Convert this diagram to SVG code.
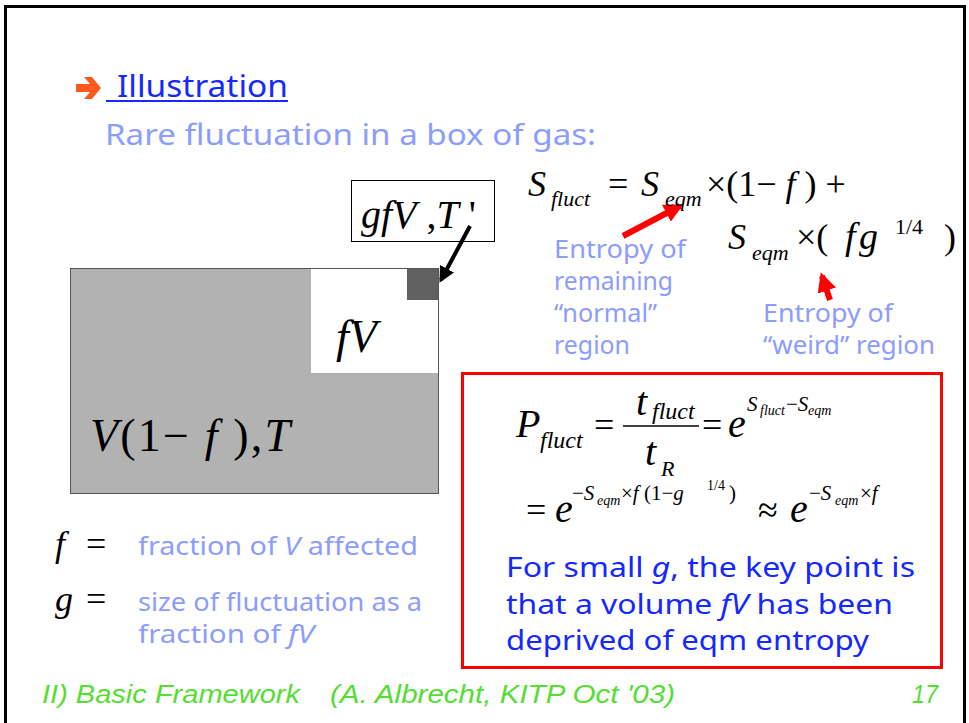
<svg xmlns="http://www.w3.org/2000/svg" width="969" height="723" viewBox="0 0 969 723">
<defs>
<style>
.m{font-family:"Liberation Serif","Times New Roman",serif;fill:#000}
.mi{font-family:"Liberation Serif","Times New Roman",serif;font-style:italic;fill:#000}
.lb{font-family:"Noto Sans","Liberation Sans",sans-serif;fill:#8c9cff}
.db{font-family:"Noto Sans","Liberation Sans",sans-serif;fill:#1428ff}
.ft{font-family:"Liberation Sans",sans-serif;font-style:italic;fill:#55dd33}
</style>
<marker id="bk" viewBox="0 0 10 10" refX="8" refY="5" markerWidth="4" markerHeight="4" orient="auto"><path d="M0,0 L10,5 L0,10 z" fill="#000"/></marker>
<marker id="rd" viewBox="0 0 10 10" refX="8" refY="5" markerWidth="3.2" markerHeight="3.2" orient="auto"><path d="M0,0 L10,5 L0,10 z" fill="#ff0000"/></marker>
</defs>
<rect x="0" y="0" width="969" height="723" fill="#fff"/>
<path d="M5.5,740 V6.5 H964.5 V740" fill="none" stroke="#000" stroke-width="3"/>

<g id="header">
<path d="M76,84 H90 L84,77 H92 L101,88 L92,99 H84 L90,92 H76 z" fill="#ff5a1e"/>
<text x="117" y="97" class="db" font-size="30" textLength="171" lengthAdjust="spacingAndGlyphs">Illustration</text>
<line x1="106" y1="101" x2="288" y2="101" stroke="#1428ff" stroke-width="2"/>
<text x="105" y="145" class="lb" font-size="29" textLength="491" lengthAdjust="spacingAndGlyphs">Rare fluctuation in a box of gas:</text>
</g>

<g id="box">
<rect x="70.5" y="268.5" width="368" height="225" fill="#b2b2b2" stroke="#555" stroke-width="1"/>
<rect x="311" y="269" width="127" height="104" fill="#fff"/>
<rect x="407" y="269" width="31" height="31" fill="#606060"/>
<text x="336" y="352" class="mi" font-size="46">fV</text>
<text x="90" y="451" class="m" font-size="46" textLength="200"><tspan font-style="italic">V</tspan>(1− <tspan font-style="italic">f</tspan> ),<tspan font-style="italic">T</tspan></text>
</g>

<g id="gfv">
<rect x="351.5" y="180.5" width="143" height="61" fill="#fff" stroke="#000" stroke-width="1"/>
<text x="361" y="228" class="mi" font-size="40">gfV<tspan font-style="normal"> ,</tspan>T<tspan font-style="normal"> '</tspan></text>
</g>

<g id="connectors">
<line x1="470" y1="226" x2="441" y2="280" stroke="#000" stroke-width="4" marker-end="url(#bk)"/>
<line x1="623" y1="236" x2="680" y2="206" stroke="#ff0000" stroke-width="6" marker-end="url(#rd)"/>
<line x1="830" y1="300" x2="822" y2="276" stroke="#ff0000" stroke-width="6" marker-end="url(#rd)"/>
</g>

<g id="entropy-eq">
<text x="528" y="196" class="mi" font-size="36">S</text>
<text x="551" y="206" class="mi" font-size="22">fluct</text>
<text x="608" y="196" class="m" font-size="36">=</text>
<text x="641" y="196" class="mi" font-size="36">S</text>
<text x="665" y="206" class="mi" font-size="22">eqm</text>
<text x="706" y="196" class="m" font-size="36">×(1− <tspan font-style="italic">f</tspan> ) +</text>
<text x="728" y="249" class="mi" font-size="36">S</text>
<text x="752" y="260" class="mi" font-size="22">eqm</text>
<text x="796" y="249" class="m" font-size="36">×(</text>
<text x="845" y="249" class="mi" font-size="38">f</text>
<text x="859" y="249" class="mi" font-size="38">g</text>
<text x="895" y="234" class="m" font-size="22">1/4</text>
<text x="944" y="249" class="m" font-size="36">)</text>
</g>

<g id="labels">
<text class="lb" font-size="26"><tspan x="554" y="258" textLength="132" lengthAdjust="spacingAndGlyphs">Entropy of</tspan><tspan x="554" y="290" textLength="119" lengthAdjust="spacingAndGlyphs">remaining</tspan><tspan x="554" y="322" textLength="103" lengthAdjust="spacingAndGlyphs">“normal”</tspan><tspan x="554" y="354" textLength="76" lengthAdjust="spacingAndGlyphs">region</tspan></text>
<text class="lb" font-size="26"><tspan x="763" y="322" textLength="130" lengthAdjust="spacingAndGlyphs">Entropy of</tspan><tspan x="763" y="354" textLength="172" lengthAdjust="spacingAndGlyphs">“weird” region</tspan></text>
</g>

<g id="result">
<rect x="462.5" y="373.5" width="479" height="294" fill="none" stroke="#ff0000" stroke-width="3"/>
<text x="516" y="437" class="mi" font-size="40">P</text>
<text x="540" y="448" class="mi" font-size="24">fluct</text>
<text x="594" y="437" class="m" font-size="36">=</text>
<text x="636" y="415" class="mi" font-size="40">t</text>
<text x="652" y="419" class="mi" font-size="24">fluct</text>
<line x1="623" y1="426" x2="699" y2="426" stroke="#000" stroke-width="1.6"/>
<text x="645" y="465" class="mi" font-size="40">t</text>
<text x="661" y="476" class="mi" font-size="22">R</text>
<text x="702" y="437" class="m" font-size="36">=</text>
<text x="728" y="437" class="mi" font-size="40">e</text>
<text x="747" y="411" class="mi" font-size="21">S</text>
<text x="760" y="415" class="mi" font-size="14">fluct</text>
<text x="786" y="411" class="m" font-size="21">−<tspan font-style="italic">S</tspan></text>
<text x="808" y="415" class="mi" font-size="14">eqm</text>
<text x="526" y="522" class="m" font-size="36">=</text>
<text x="555" y="522" class="mi" font-size="40">e</text>
<text x="572" y="500" class="m" font-size="21">−<tspan font-style="italic">S</tspan></text>
<text x="597" y="505" class="mi" font-size="14">eqm</text>
<text x="621" y="500" class="m" font-size="21">×<tspan font-style="italic">f</tspan> (1−<tspan font-style="italic">g</tspan></text>
<text x="707" y="490" class="m" font-size="14">1/4</text>
<text x="729" y="500" class="m" font-size="21">)</text>
<text x="758" y="522" class="m" font-size="36">≈</text>
<text x="790" y="522" class="mi" font-size="40">e</text>
<text x="809" y="500" class="m" font-size="21">−<tspan font-style="italic">S</tspan></text>
<text x="835" y="505" class="mi" font-size="14">eqm</text>
<text x="860" y="500" class="m" font-size="21">×<tspan font-style="italic">f</tspan></text>
<text class="db" font-size="28"><tspan x="506" y="577" textLength="409" lengthAdjust="spacingAndGlyphs">For small <tspan font-style="italic">g</tspan>, the key point is</tspan><tspan x="506" y="614" textLength="387" lengthAdjust="spacingAndGlyphs">that a volume <tspan font-style="italic">fV</tspan> has been</tspan><tspan x="506" y="650" textLength="363" lengthAdjust="spacingAndGlyphs">deprived of eqm entropy</tspan></text>
</g>

<g id="defs-text">
<text x="55" y="556" class="mi" font-size="36">f</text>
<text x="86" y="556" class="m" font-size="36">=</text>
<text x="55" y="611" class="mi" font-size="36">g</text>
<text x="86" y="611" class="m" font-size="36">=</text>
<text x="138" y="555" class="lb" font-size="25" textLength="280" lengthAdjust="spacingAndGlyphs">fraction of <tspan font-style="italic">V</tspan> affected</text>
<text x="138" y="611" class="lb" font-size="25" textLength="284" lengthAdjust="spacingAndGlyphs">size of fluctuation as a</text>
<text x="138" y="643" class="lb" font-size="25" textLength="176" lengthAdjust="spacingAndGlyphs">fraction of <tspan font-style="italic">fV</tspan></text>
</g>

<g id="footer">
<text x="42" y="703" class="ft" font-size="26" textLength="258" lengthAdjust="spacingAndGlyphs">II) Basic Framework</text>
<text x="330" y="703" class="ft" font-size="26" textLength="345" lengthAdjust="spacingAndGlyphs">(A. Albrecht, KITP Oct '03)</text>
<text x="912" y="703" class="ft" font-size="26" textLength="26" lengthAdjust="spacingAndGlyphs">17</text>
</g>
</svg>
